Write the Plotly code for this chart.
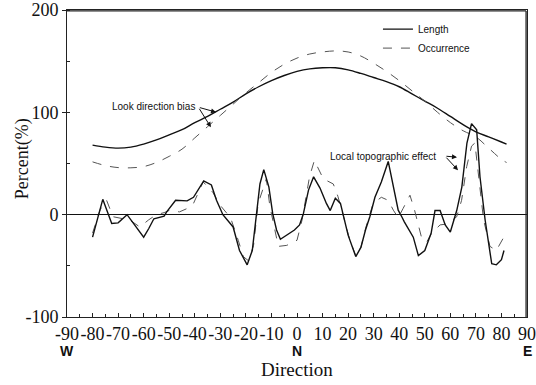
import plotly.graph_objects as go

# Smooth trend curves (percent vs. direction, degrees from north)
trend_dir = [-80, -75, -70, -65, -60, -55, -50, -45, -40, -35, -30, -25, -20, -15,
             -10, -5, 0, 5, 10, 15, 20, 25, 30, 35, 40, 45, 50, 55, 60, 65, 70,
             75, 80, 82]
length_trend = [68, 66, 65, 66, 69, 73, 78, 83, 90, 96, 103, 110, 118, 125,
                131, 136, 140, 142.5, 143.5, 143.5, 141.5, 138, 134, 130, 125,
                118, 111, 104, 96, 88, 81, 76, 71, 69]
occ_trend = [51.6, 48, 46, 45.8, 47, 51, 57, 64, 75, 86, 97, 108, 119, 129,
             139, 147, 153, 157, 159, 160, 159, 155, 148, 140, 131, 121, 111,
             100, 90, 82, 76, 65, 54, 51]

# Residual (detrended) curves
length_dir = [-80, -76, -72.5, -70, -66.5, -64.5, -60, -58, -56, -52, -51,
              -47.5, -43, -40.5, -36.5, -33.5, -31.5, -29, -25, -22.5, -19.5,
              -17.5, -16, -14.5, -13, -11, -9.5, -8, -6.5, -4, -1, 1, 2.5, 4.5,
              6.5, 9, 11.5, 13, 15, 17, 18, 20, 23, 25, 26.8, 28.5, 30.5, 33,
              35.7, 37.7, 39.6, 41, 42, 45.5, 47.5, 50, 52.5, 54, 56, 58, 60,
              62.5, 64.5, 66.5, 68.3, 70.3, 71.6, 73.6, 76.2, 78, 80, 81]
length_dev = [-22, 15, -8.6, -8, 0, -7, -22, -13.5, -4, -1.5, 2.7,
              14, 13.5, 17, 33, 29, 14, 0, -12, -35, -49,
              -35, 1, 30, 44, 27, 1, -15, -24, -20, -15, -10, 1, 24,
              37, 26, 11, 4, 16, 11, 0, -20, -41, -32, -15, -2, 17, 32,
              52, 27, 4.4, -2, -7, -22, -40, -35, -18, 4, 4, -10, -17,
              4, 27, 70, 89, 83, 37, -5, -48, -49, -44, -35]

occ_dir = [-80, -77, -74.5, -72, -68, -65, -61.5, -58, -55, -52, -49.7, -46,
           -43, -40.5, -36.7, -33, -30, -26, -23, -21, -19, -17, -15.2, -12,
           -10.6, -8.6, -7.3, -4, 0, 2, 4.9, 6.8, 10.3, 14.2, 16, 18, 20.7,
           23, 25, 27, 29.8, 33, 35.7, 37.7, 39.6, 41.5, 44.2, 46, 48.7,
           50.7, 52.7, 56, 59, 62.5, 64.4, 66.4, 68.3, 69.6, 71, 73, 75.5,
           78, 80.7]
occ_dev = [-18, 5, 14, -2, -4, -6, -12, -5, 0, 2, 4.4, 2.7,
           6, 11, 32, 22, 9, -3, -25, -41, -45, -30, 11, 35,
           8, -17, -31, -30, -25, -5, 37, 53, 35, 30, 18, 0, -25,
           -40, -32, -12, 11, 17, 14, 4.4, -3, 6, 19, 4.4, -22,
           -27, -18, -10, -9, -2, 14, 47, 67, 70, 37, -5, -31,
           -35, -23]

x_ticks = list(range(-90, 91, 10))
x_ticktext = [str(v) for v in x_ticks]
y_ticks = [-100, 0, 100, 200]
y_ticktext = ["-100", "0", "100", "200"]
compass = [(-90, "W"), (0, "N"), (90, "E")]

serif = "Liberation Serif"
sans = "Liberation Sans"

solid = dict(color="#111111", width=1.4)
dashed = dict(color="#555555", width=1, dash="dash")

fig = go.Figure()
fig.add_trace(go.Scatter(x=trend_dir, y=length_trend, mode="lines",
                         line=dict(shape="spline", **solid), name="Length",
                         legendgroup="len", showlegend=True))
fig.add_trace(go.Scatter(x=trend_dir, y=occ_trend, mode="lines",
                         line=dict(shape="spline", **dashed), name="Occurrence",
                         legendgroup="occ", showlegend=True))
fig.add_trace(go.Scatter(x=occ_dir, y=occ_dev, mode="lines", line=dashed,
                         name="Occurrence", legendgroup="occ", showlegend=False))
fig.add_trace(go.Scatter(x=length_dir, y=length_dev, mode="lines", line=solid,
                         name="Length", legendgroup="len", showlegend=False))

arrow = dict(showarrow=True, arrowhead=2, arrowsize=1, arrowwidth=1,
             arrowcolor="#111111", axref="x", ayref="y", text="")
ann = [
    dict(x=-39.1, y=106, text="Look direction bias", showarrow=False,
         xanchor="right", yanchor="middle", font=dict(family=sans, size=10, color="#111")),
    dict(x=-31.7, y=100.2, ax=-38.6, ay=105, **arrow),
    dict(x=-33.7, y=85.5, ax=-38.6, ay=105, **arrow),
    dict(x=55.2, y=57, text="Local topographic effect", showarrow=False,
         xanchor="right", yanchor="middle", font=dict(family=sans, size=10, color="#111")),
    dict(x=62.6, y=56.2, ax=57.9, ay=57.2, **arrow),
    dict(x=63.0, y=43.5, ax=57.9, ay=57.2, **arrow),
    dict(x=0, y=-0.172, xref="x", yref="paper", text="Direction", showarrow=False,
         yanchor="middle", font=dict(family=serif, size=19, color="#111")),
    dict(x=-0.122, y=0.515, xref="paper", yref="paper", text="Percent(%)",
         textangle=-90, showarrow=False, font=dict(family=serif, size=18, color="#111")),
]
for xv, lab in compass:
    ann.append(dict(x=xv, y=-0.11, xref="x", yref="paper", text="<b>%s</b>" % lab,
                    showarrow=False, yanchor="middle",
                    font=dict(family=sans, size=14, color="#111")))

# top and right edges of the frame, drawn just inside the plot area
frame = dict(color="#222", width=1.3)
shapes = [
    dict(type="line", xref="paper", yref="paper", x0=0, x1=0.998, y0=0.997, y1=0.997,
         line=frame, layer="above"),
    dict(type="line", xref="paper", yref="paper", x0=0.998, x1=0.998, y0=0, y1=0.997,
         line=frame, layer="above"),
]

fig.update_layout(
    width=536, height=385,
    margin=dict(l=67, r=9, t=10, b=68, autoexpand=False),
    paper_bgcolor="white", plot_bgcolor="white",
    annotations=ann,
    shapes=shapes,
    xaxis=dict(range=[-90, 90], tickvals=x_ticks, ticktext=x_ticktext,
               tickangle=0, ticks="inside", ticklen=4, tickcolor="#222",
               minor=dict(ticks="inside", dtick=5, ticklen=3, tickcolor="#222"),
               tickfont=dict(family=serif, size=18, color="#111"),
               showline=True, linecolor="#222", linewidth=1, mirror=True,
               showgrid=False, zeroline=False, automargin=False),
    yaxis=dict(range=[-100, 200], tickvals=y_ticks, ticktext=y_ticktext,
               ticks="outside", ticklen=4, tickcolor="#222",
               minor=dict(ticks="inside", dtick=50, ticklen=3, tickcolor="#222"),
               tickfont=dict(family=serif, size=18, color="#111"),
               showline=True, linecolor="#222", linewidth=1, mirror=True,
               showgrid=False, zeroline=True, zerolinecolor="#111",
               zerolinewidth=1.3, automargin=False),
    legend=dict(x=0.676, y=0.985, xanchor="left", yanchor="top",
                font=dict(family=sans, size=10, color="#111"),
                bgcolor="rgba(0,0,0,0)", tracegroupgap=0, itemwidth=30),
    showlegend=True,
)

fig.write_html("out.html")
